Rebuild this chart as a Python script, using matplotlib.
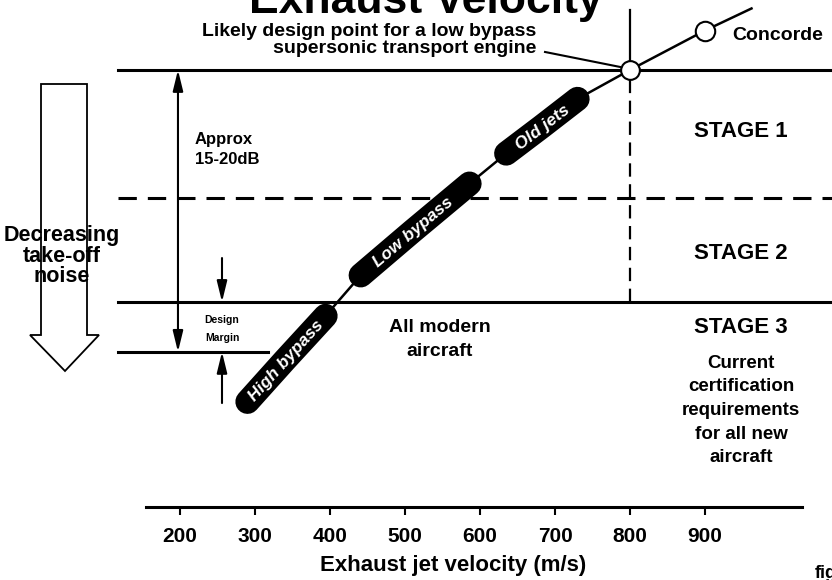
import numpy as np
import matplotlib
matplotlib.use("Agg")
import matplotlib.pyplot as plt
from matplotlib.patches import Polygon

plt.rcParams['font.family'] = ['Liberation Sans', 'DejaVu Sans']
plt.rcParams['font.weight'] = 'bold'

# -------------------------
# Data (velocity m/s, relative take-off noise dB, Stage 3 = 0)
# -------------------------
velocity = [290, 340, 394, 441, 510, 586, 635, 682, 730, 800, 900, 962]
noise = [-8.6, -5.0, -1.2, 2.3, 6.1, 10.2, 12.8, 15.1, 17.5, 20.0, 23.4, 25.3]

# engine classes = slices of the curve drawn as thick pills
pill_labels = ["High bypass", "Low bypass", "Old jets"]
pill_ranges = [(0, 3), (3, 6), (6, 9)]

stage1_level = 20.0
stage2_level = 9.0
stage3_level = 0.0
margin_level = -4.3

design_point = (800, 20.0)
concorde = (900, 23.4)

xticks = [200, 300, 400, 500, 600, 700, 800, 900]

# -------------------------
# Figure / axes
# -------------------------
W, H = 832, 580
fig = plt.figure(figsize=(W / 100, H / 100), dpi=100)
ax = fig.add_axes([146 / W, (H - 507) / H, (802 - 146) / W, 507 / H])
ax.set_xlim(154.67, 1029.33)
ax.set_ylim(-17.67, 26.03)

for s in ["left", "right", "top"]:
    ax.spines[s].set_visible(False)
ax.spines["bottom"].set_linewidth(2.2)
ax.set_yticks([])
ax.set_xticks(xticks)
ax.set_xticklabels([str(t) for t in xticks], fontsize=15, fontweight="bold")
ax.tick_params(axis="x", direction="out", length=6, width=1.5, pad=8.5)
ax.set_xlabel("Exhaust jet velocity (m/s)", fontsize=16, fontweight="bold")
ax.xaxis.label.set_va("center")
ax.xaxis.set_label_coords(0.468, -(565 - 507) / 507)

# -------------------------
# Stage boundaries
# -------------------------
x_left, x_right = 117.3, 1070
ax.plot([x_left, x_right], [stage1_level] * 2, color="black", lw=2.2, clip_on=False)
ax.plot([x_left, x_right], [stage2_level] * 2, color="black", lw=2.2,
        dashes=(6, 3.6), clip_on=False)
ax.plot([x_left, x_right], [stage3_level] * 2, color="black", lw=2.2, clip_on=False)
ax.plot([x_left, 317.3], [margin_level] * 2, color="black", lw=2.2, clip_on=False)

# vertical at design velocity
ax.plot([design_point[0]] * 2, [stage1_level, 25.2], color="black", lw=1.6)
ax.plot([design_point[0]] * 2, [stage3_level, stage1_level], color="black", lw=1.6,
        dashes=(6, 3.4))

# -------------------------
# Curve + pills
# -------------------------
ax.plot(velocity, noise, color="black", lw=1.8, zorder=3)
for lab, (i0, i1) in zip(pill_labels, pill_ranges):
    xs = velocity[i0:i1]
    ys = noise[i0:i1]
    ax.plot(xs, ys, color="black", lw=17.5, solid_capstyle="round", zorder=4)
    p0 = ax.transData.transform((xs[0], ys[0]))
    p1 = ax.transData.transform((xs[-1], ys[-1]))
    ang = np.degrees(np.arctan2(p1[1] - p0[1], p1[0] - p0[0]))
    mid = len(xs) // 2
    ax.text(xs[mid], ys[mid], lab, color="white", fontsize=12.5, fontweight="bold",
            fontstyle="italic", rotation=ang, rotation_mode="anchor",
            ha="center", va="center_baseline", zorder=5)

ax.plot(*design_point, marker="o", ms=13.5, mfc="white", mec="black", mew=1.5, zorder=6)
ax.plot(*concorde, marker="o", ms=14, mfc="white", mec="black", mew=1.5, zorder=6)

# pointer to design point
ax.plot([686.7, 786.7], [21.55, 20.26], color="black", lw=1.5, zorder=5)
ax.text(674.7, 22.93, "Likely design point for a low bypass", fontsize=14,
        ha="right", va="baseline")
ax.text(674.7, 21.47, "supersonic transport engine", fontsize=14,
        ha="right", va="baseline")
ax.text(936, 23.0, "Concorde", fontsize=14, ha="left", va="center")

# -------------------------
# Stage labels
# -------------------------
stage_x = 948
ax.text(stage_x, 14.66, "STAGE 1", fontsize=16, ha="center", va="center")
ax.text(stage_x, 4.14, "STAGE 2", fontsize=16, ha="center", va="center")
ax.text(stage_x, -2.16, "STAGE 3", fontsize=16, ha="center", va="center")
stage3_note = ["Current", "certification", "requirements", "for all new", "aircraft"]
for k, line in enumerate(stage3_note):
    ax.text(stage_x, (302 - (363 + 23.7 * k)) / 11.6, line, fontsize=13.5,
            ha="center", va="center")

ax.text(546.7, -2.24, "All modern", fontsize=14, ha="center", va="center")
ax.text(546.7, -4.31, "aircraft", fontsize=14, ha="center", va="center")

# -------------------------
# 15-20 dB span and design margin arrows
# -------------------------
ax.annotate("", xy=(197.3, stage1_level), xytext=(197.3, margin_level),
            arrowprops=dict(arrowstyle="<|-|>,head_length=0.9,head_width=0.22",
                            color="black", lw=1.5, mutation_scale=14,
                            shrinkA=0, shrinkB=0), annotation_clip=False)
ax.text(220, 13.97, "Approx", fontsize=12, ha="left", va="center")
ax.text(220, 12.24, "15-20dB", fontsize=12, ha="left", va="center")

ax.annotate("", xy=(256, stage3_level), xytext=(256, 3.79),
            arrowprops=dict(arrowstyle="-|>,head_length=0.9,head_width=0.22",
                            color="black", lw=1.5, mutation_scale=14,
                            shrinkA=0, shrinkB=0))
ax.annotate("", xy=(256, margin_level), xytext=(256, -8.71),
            arrowprops=dict(arrowstyle="-|>,head_length=0.9,head_width=0.22",
                            color="black", lw=1.5, mutation_scale=14,
                            shrinkA=0, shrinkB=0))
ax.text(256, -1.55, "Design", fontsize=7.5, ha="center", va="center")
ax.text(256, -3.10, "Margin", fontsize=7.5, ha="center", va="center")

# -------------------------
# Hollow "decreasing noise" arrow (figure pixel coords)
# -------------------------
arrow_px = [(41, 84), (87, 84), (87, 335), (99, 335), (65, 371), (30, 335), (41, 335)]
arrow_fig = [(x / W, 1 - y / H) for x, y in arrow_px]
fig.patches.append(Polygon(arrow_fig, closed=True, facecolor="white",
                           edgecolor="black", lw=1.3, transform=fig.transFigure))
for k, line in enumerate(["Decreasing", "take-off", "noise"]):
    fig.text(62 / W, 1 - (236 + 20 * k) / H, line, fontsize=15.5,
             ha="center", va="center")

# title, cut off by top edge in the original
fig.text(426 / W, 1 - 13 / H, "Exhaust Velocity", fontsize=32, ha="center",
         va="baseline")
fig.text(815 / W, 1 - 578 / H, "fig", fontsize=13, ha="left", va="baseline")

fig.savefig("out.png", dpi=100)
